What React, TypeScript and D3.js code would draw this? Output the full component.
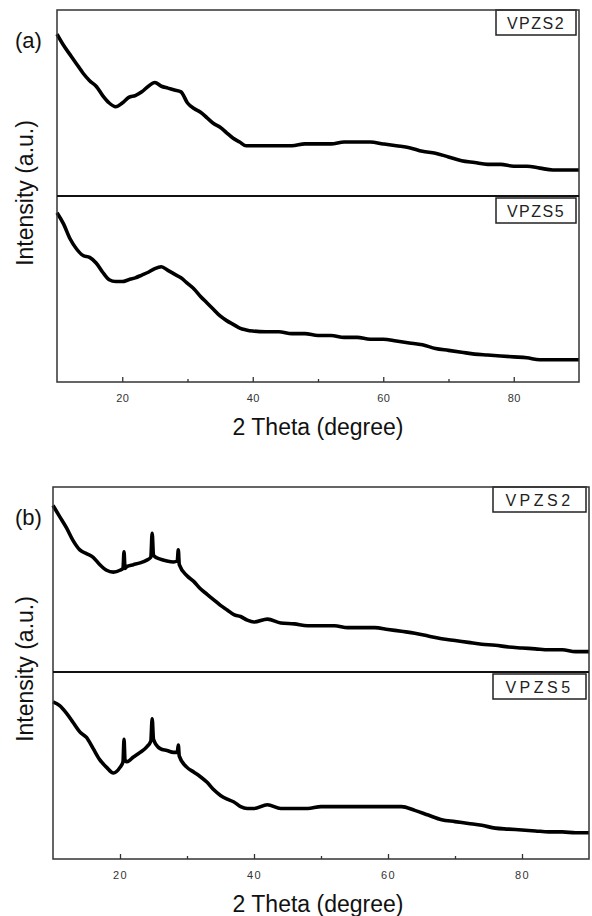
import React, { useRef, useEffect } from 'react';
import { select, scaleLinear, line, axisBottom, curveMonotoneX } from 'd3';

// 2 theta positions (degree)
const anglesA = [10, 11, 12, 13, 14, 15, 16, 17, 18, 19, 20, 21, 22, 23, 24, 25, 26, 27, 28, 29, 30,
  31, 32, 33, 34, 35, 36, 37, 38, 39, 40, 42, 44, 46, 48, 50, 52, 54, 56, 58, 60, 62, 64, 66, 68, 70,
  72, 74, 76, 78, 80, 82, 84, 86, 88, 90];
const anglesB = [10, 11, 12, 13, 14, 15, 16, 17, 18, 19, 20, 20.45, 20.6, 20.75, 21, 22, 23, 24, 24.6, 24.8, 25.0,
  26, 27, 28, 28.55, 28.7, 28.85, 30, 31, 32, 33, 34, 35, 36, 37, 38, 39, 40, 42, 44, 46, 48, 50, 52, 54, 56,
  58, 60, 62, 64, 66, 68, 70, 72, 74, 76, 78, 80, 82, 84, 86, 88, 90];

// intensities (a.u.)
const a_vpzs2 = [87, 81, 76, 71, 66, 62, 59, 54, 50, 48, 50, 53, 54, 56, 59, 61, 59, 58, 57, 56, 50,
  47, 45, 42, 39, 37, 34, 31, 29, 27, 27, 27, 27, 27, 28, 28, 28, 29, 29, 29, 28, 27, 26, 24, 23, 21,
  19, 18, 17, 17, 16, 16, 15, 14, 14, 14];
const a_vpzs5 = [91, 85, 77, 71.5, 68, 67, 64, 59, 55, 54, 54, 55, 56, 57.5, 59, 61, 62, 60, 58, 56, 53,
  50, 46, 42.5, 39, 35.5, 33, 31, 29, 28, 27.4, 27, 27, 26, 26, 25, 25, 24, 24, 23, 23, 22, 21, 20, 18, 17,
  16, 15, 14.5, 14, 13.5, 13, 12, 12, 12, 12];
const b_vpzs2 = [90, 84, 78, 71, 66, 64, 62, 58, 55, 54, 55, 56, 65, 56, 57, 58, 59, 60.5, 62, 75, 63,
  61, 60, 59.5, 60, 66, 58, 52, 49, 45, 42, 39, 36, 33.5, 31, 30, 28, 27, 28.6, 26.5, 26, 25, 25, 25, 24, 24,
  24, 23, 22, 21, 19.5, 18, 17, 16, 15, 14.5, 13.5, 13, 12.5, 12, 12, 11, 11];
const b_vpzs5 = [84, 82, 78, 73, 68, 65, 59, 53, 49, 46, 49, 52, 64, 53, 52, 54.5, 57, 60, 63, 75, 64,
  59, 58, 57, 57, 61, 55, 49, 46.5, 44, 41, 37, 34, 32, 30.5, 28, 27, 27, 29, 27, 27, 27, 28, 28, 28, 28,
  28, 28, 28, 26, 23.5, 21, 20, 19, 18, 16.5, 16, 15.5, 15, 14.5, 14.5, 14, 14];

const majorTicks = [20, 40, 60, 80];
const minorTicks = [30, 50, 70];

const panels = [
  { tag: '(a)', angles: anglesA, top: a_vpzs2, bottom: a_vpzs5, names: ['VPZS2', 'VPZS5'],
    left: 57, right: 579, y0: 10, y1: 196, y2: 382, spacing: 1.5, box: [496, 80] },
  { tag: '(b)', angles: anglesB, top: b_vpzs2, bottom: b_vpzs5, names: ['VPZS2', 'VPZS5'],
    left: 53, right: 589, y0: 487, y1: 672, y2: 859, spacing: 3.5, box: [493, 93] },
];

const FONT = '"Liberation Sans", Arial, sans-serif';

function App() {
  const svgRef = useRef(null);

  useEffect(() => {
    const svg = select(svgRef.current);
    svg.selectAll('*').remove();

    panels.forEach(p => {
      const g = svg.append('g');
      const xScale = scaleLinear().domain([10, 90]).range([p.left, p.right]);

      // two stacked traces
      [[p.top, p.y0, p.y1], [p.bottom, p.y1, p.y2]].forEach(([vals, top, bot], i) => {
        const yScale = scaleLinear().domain([0, 100]).range([bot, top]);
        const path = line()
          .x((d, j) => xScale(p.angles[j]))
          .y(d => yScale(d))
          .curve(curveMonotoneX);
        g.append('path')
          .attr('d', path(vals))
          .attr('fill', 'none')
          .attr('stroke', '#000')
          .attr('stroke-width', 3.6)
          .attr('stroke-linejoin', 'round');

        // legend box
        g.append('rect')
          .attr('x', p.box[0]).attr('y', top + (i === 0 ? 0 : 2))
          .attr('width', p.box[1]).attr('height', 25)
          .attr('fill', '#fff').attr('stroke', '#222').attr('stroke-width', 1.5);
        g.append('text')
          .attr('x', p.box[0] + p.box[1] / 2)
          .attr('y', top + (i === 0 ? 0 : 2) + 19)
          .attr('text-anchor', 'middle')
          .attr('font-family', FONT)
          .attr('font-size', 16)
          .attr('letter-spacing', p.spacing)
          .attr('fill', '#222')
          .text(p.names[i]);
      });

      // frame + divider
      g.append('rect')
        .attr('x', p.left).attr('y', p.y0)
        .attr('width', p.right - p.left).attr('height', p.y2 - p.y0)
        .attr('fill', 'none').attr('stroke', '#333').attr('stroke-width', 1.5);
      g.append('line')
        .attr('x1', p.left).attr('x2', p.right)
        .attr('y1', p.y1).attr('y2', p.y1)
        .attr('stroke', '#111').attr('stroke-width', 2.2);

      // axes, ticks inward
      const major = g.append('g')
        .attr('transform', `translate(0,${p.y2})`)
        .call(axisBottom(xScale).tickValues(majorTicks).tickSize(-5).tickSizeOuter(0).tickPadding(12));
      major.select('.domain').remove();
      major.selectAll('line').attr('stroke', '#333').attr('stroke-width', 1.3);
      major.selectAll('text')
        .attr('font-family', FONT)
        .attr('font-size', 11)
        .attr('letter-spacing', p.spacing > 2 ? 1.5 : 0.5)
        .attr('fill', '#333');

      const minor = g.append('g')
        .attr('transform', `translate(0,${p.y2})`)
        .call(axisBottom(xScale).tickValues(minorTicks).tickSize(-3).tickSizeOuter(0).tickFormat(() => ''));
      minor.select('.domain').remove();
      minor.selectAll('line').attr('stroke', '#333').attr('stroke-width', 1.3);

      // labels
      g.append('text')
        .attr('x', 318).attr('y', p.y2 + 53)
        .attr('text-anchor', 'middle')
        .attr('font-family', FONT).attr('font-size', 23).attr('fill', '#111')
        .text('2 Theta (degree)');
      g.append('text')
        .attr('transform', `translate(33,${p.y1 - 3}) rotate(-90)`)
        .attr('text-anchor', 'middle')
        .attr('font-family', FONT).attr('font-size', 23).attr('fill', '#111')
        .text('Intensity (a.u.)');
      g.append('text')
        .attr('x', 15).attr('y', p.y0 + 38)
        .attr('font-family', FONT).attr('font-size', 22).attr('fill', '#111')
        .text(p.tag);
    });
  }, []);

  return (
    <svg ref={svgRef} width={592} height={916}
      style={{ position: 'absolute', left: 0, top: 0, background: '#fff' }} />
  );
}

export default App;
